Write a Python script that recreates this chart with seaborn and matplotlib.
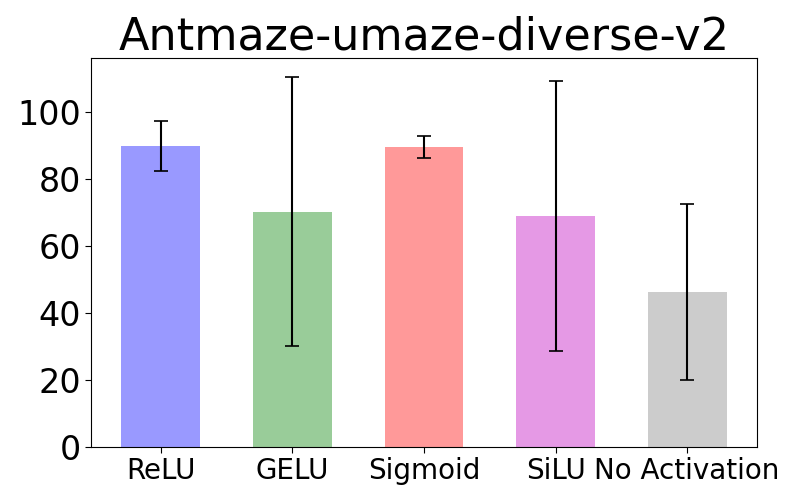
import matplotlib
matplotlib.use("Agg")
import matplotlib.pyplot as plt
import seaborn as sns
import pandas as pd

categories = ["ReLU", "GELU", "Sigmoid", "SiLU", "No Activation"]
means = [90.0, 70.3, 89.5, 69.0, 46.3]
stds = [7.5, 40.2, 3.3, 40.2, 26.2]
colors = ["blue", "green", "red", "m", "gray"]

sns.set_style("white")
plt.rcParams['font.family'] = ['DejaVu Sans']
plt.rcParams['text.color'] = 'black'
plt.rcParams['xtick.color'] = 'black'
plt.rcParams['ytick.color'] = 'black'

df = pd.DataFrame({"cat": categories, "mean": means})
fig, ax = plt.subplots(figsize=(8, 5), dpi=100)
sns.barplot(data=df, x="cat", y="mean", hue="cat", palette=colors, alpha=0.4,
            width=0.6, errorbar=None, legend=False, ax=ax, saturation=1, linewidth=0)
ax.errorbar(range(len(categories)), means, yerr=stds, fmt="none", ecolor="black",
            capsize=5, elinewidth=1.5, capthick=1.2)
ax.set_title("Antmaze-umaze-diverse-v2", fontsize=32, color="black")
ax.set_xlabel("")
ax.set_ylabel("")
ax.tick_params(axis="y", labelsize=24, left=True, length=4, colors="black")
ax.tick_params(axis="x", labelsize=20, bottom=True, length=4, colors="black")
ax.set_xlim(-0.53, 4.53)
ax.set_ylim(0, 116.2)
ax.set_yticks([0, 20, 40, 60, 80, 100])
for s in ax.spines.values():
    s.set_color("black")
    s.set_linewidth(0.8)
fig.subplots_adjust(left=0.114, right=0.946, top=0.884, bottom=0.106)
fig.savefig("out.png", dpi=100)
